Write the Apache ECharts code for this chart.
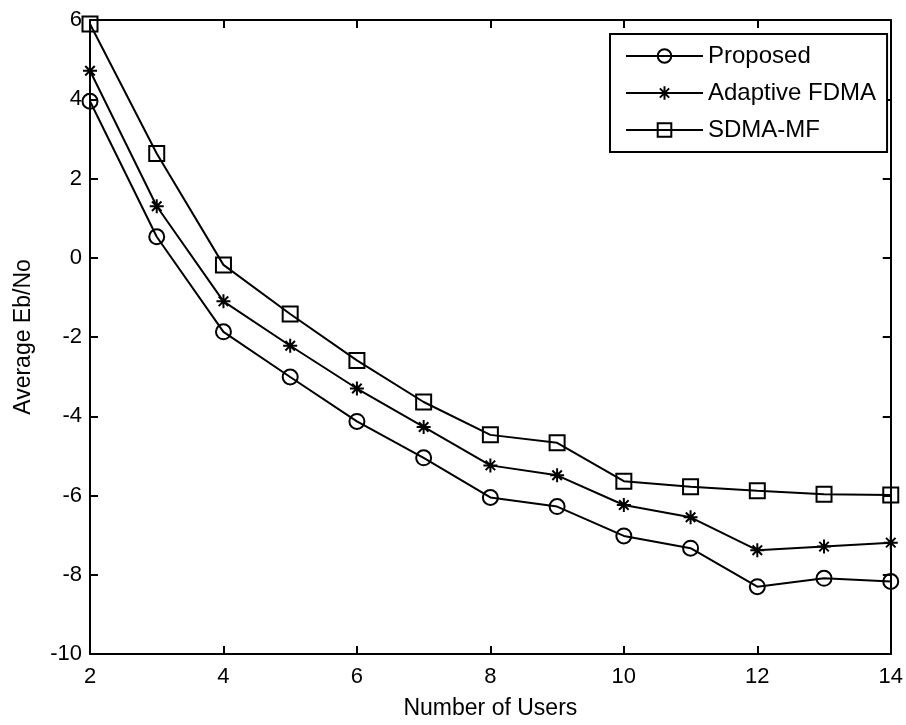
<!DOCTYPE html>
<html>
<head>
<meta charset="utf-8">
<script src="https://cdn.jsdelivr.net/npm/echarts@6/dist/echarts.min.js"></script>
<style>html,body{margin:0;padding:0;background:#fff;}#c{width:906px;height:725px;}</style>
</head>
<body>
<div id="c"></div>
<script>
const users = [2, 3, 4, 5, 6, 7, 8, 9, 10, 11, 12, 13, 14];
const proposed = [3.95, 0.53, -1.87, -3.01, -4.13, -5.05, -6.05, -6.28, -7.02, -7.33, -8.30, -8.09, -8.17];
const adaptiveFDMA = [4.72, 1.30, -1.10, -2.22, -3.30, -4.27, -5.24, -5.49, -6.24, -6.55, -7.38, -7.29, -7.19];
const sdmaMF = [5.90, 2.63, -0.18, -1.42, -2.59, -3.64, -4.47, -4.67, -5.64, -5.78, -5.88, -5.97, -5.99];
const seriesNames = ['Proposed', 'Adaptive FDMA', 'SDMA-MF'];
const xTicks = {min: 2, max: 14, interval: 2};
const yTicks = {min: -10, max: 6, interval: 2};

const FONT = 'Liberation Sans';
const starPath = 'path://M5 0 L5 10 M0 5 L10 5 M1.6 1.6 L8.4 8.4 M8.4 1.6 L1.6 8.4';

function mk(name, vals, symbol, size) {
  return {
    name: name,
    type: 'line',
    data: users.map((u, i) => [u, vals[i]]),
    symbol: symbol,
    symbolSize: size,
    showAllSymbol: true,
    clip: false,
    lineStyle: {color: '#000', width: 2},
    itemStyle: {color: 'rgba(0,0,0,0)', borderColor: '#000', borderWidth: 2},
    emphasis: {disabled: true},
    animation: false,
    z: 3
  };
}

const chart = echarts.init(document.getElementById('c'), null, {renderer: 'canvas'});
const axisLineStyle = {color: '#000', width: 2};
const tickStyle = {show: true, inside: true, length: 8, lineStyle: {color: '#000', width: 2}};
chart.setOption({
  backgroundColor: '#fff',
  animation: false,
  grid: {left: 90, top: 20, right: 11, bottom: 69, containLabel: false},
  legend: {
    data: seriesNames,
    orient: 'vertical',
    left: 610,
    top: 34,
    itemWidth: 77,
    itemHeight: 17,
    itemGap: 13,
    padding: [10, 11, 10, 15],
    borderColor: '#000',
    borderWidth: 2,
    backgroundColor: '#fff',
    textStyle: {fontFamily: FONT, fontSize: 24, color: '#000', lineHeight: 22}
  },
  xAxis: [
    {
      type: 'value', min: xTicks.min, max: xTicks.max, interval: xTicks.interval,
      name: 'Number of Users', nameLocation: 'middle', nameGap: 43,
      nameTextStyle: {fontFamily: FONT, fontSize: 23, color: '#000'},
      axisLine: {show: true, onZero: false, lineStyle: axisLineStyle},
      axisTick: tickStyle,
      axisLabel: {fontFamily: FONT, fontSize: 22, color: '#000', margin: 12},
      splitLine: {show: false}
    },
    {
      type: 'value', position: 'top', min: xTicks.min, max: xTicks.max, interval: xTicks.interval,
      axisLine: {show: true, onZero: false, lineStyle: axisLineStyle},
      axisTick: tickStyle,
      axisLabel: {show: false},
      splitLine: {show: false}
    }
  ],
  yAxis: [
    {
      type: 'value', min: yTicks.min, max: yTicks.max, interval: yTicks.interval,
      name: 'Average Eb/No', nameLocation: 'middle', nameGap: 55,
      nameTextStyle: {fontFamily: FONT, fontSize: 23, color: '#000'},
      axisLine: {show: true, onZero: false, lineStyle: axisLineStyle},
      axisTick: tickStyle,
      axisLabel: {fontFamily: FONT, fontSize: 22, color: '#000', margin: 8},
      splitLine: {show: false}
    },
    {
      type: 'value', position: 'right', min: yTicks.min, max: yTicks.max, interval: yTicks.interval,
      axisLine: {show: true, onZero: false, lineStyle: axisLineStyle},
      axisTick: tickStyle,
      axisLabel: {show: false},
      splitLine: {show: false}
    }
  ],
  series: [
    mk(seriesNames[0], proposed, 'circle', 15),
    mk(seriesNames[1], adaptiveFDMA, starPath, 14),
    mk(seriesNames[2], sdmaMF, 'rect', 15)
  ]
});
</script>
</body>
</html>
